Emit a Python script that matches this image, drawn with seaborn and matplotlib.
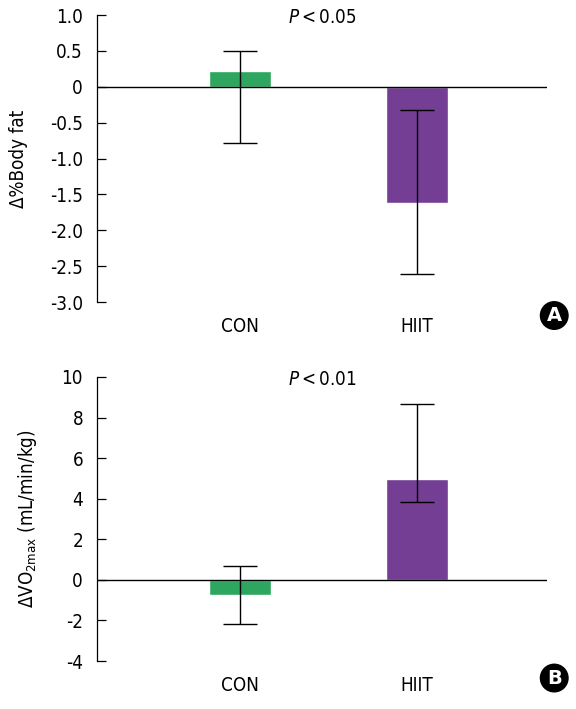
import matplotlib
matplotlib.use("Agg")
import matplotlib.pyplot as plt
import numpy as np
import pandas as pd
import seaborn as sns

# ── data ──────────────────────────────────────────────────────────────────────
groups = ["CON", "HIIT"]
bar_colors = ["#2ea65f", "#733e94"]

fat_mean = [0.22, -1.62]
fat_err_hi = [0.50, -0.33]     # upper end of error bar
fat_err_lo = [-0.79, -2.61]    # lower end of error bar
fat_ticks = [1.0, 0.5, 0, -0.5, -1.0, -1.5, -2.0, -2.5, -3.0]
fat_ticklabels = ["1.0", "0.5", "0", "-0.5", "-1.0", "-1.5", "-2.0", "-2.5", "-3.0"]

vo2_mean = [-0.77, 4.97]
vo2_err_hi = [0.70, 8.65]
vo2_err_lo = [-2.18, 3.83]
vo2_ticks = [10, 8, 6, 4, 2, 0, -2, -4]
vo2_ticklabels = ["10", "8", "6", "4", "2", "0", "-2", "-4"]

sns.set_theme(style="white")
plt.rcParams["font.family"] = ["DejaVu Sans"]
plt.rcParams.update({"font.stretch": "condensed",
                     "text.color": "black", "axes.labelcolor": "black",
                     "xtick.color": "black", "ytick.color": "black"})
FS = 13.5

fig = plt.figure(figsize=(5.76, 7.09), dpi=100)
ax_top = fig.add_axes([0.1684, 0.574, 0.7813, 0.4048])
ax_bot = fig.add_axes([0.1684, 0.0677, 0.7813, 0.4006])


def draw_panel(ax, mean, hi, lo, ticks, ticklabels, ylim, ylabel, ptxt,
               letter, ptxt_y, badge_y):
    df = pd.DataFrame({"group": groups, "value": mean})
    sns.barplot(data=df, x="group", y="value", hue="group",
                palette=bar_colors, width=0.35, saturation=1,
                legend=False, ax=ax, errorbar=None)
    mean = np.array(mean)
    yerr = [mean - np.array(lo), np.array(hi) - mean]
    ax.errorbar(range(len(groups)), mean, yerr=yerr, fmt="none",
                ecolor="black", elinewidth=1.0, capsize=12, capthick=1.0,
                zorder=5)
    ax.axhline(0, color="black", lw=1.0, zorder=4)
    ax.set_xlim(-0.808, 1.734)
    ax.set_ylim(*ylim)
    ax.set_yticks(ticks)
    ax.set_yticklabels(ticklabels, fontsize=FS)
    ax.tick_params(axis="y", direction="in", length=6.5, width=0.9,
                   left=True, pad=10)
    ax.tick_params(axis="x", length=0, pad=11, labelsize=FS)
    ax.set_xlabel("")
    ax.set_ylabel(ylabel, fontsize=FS, labelpad=16)
    for side in ["top", "right", "bottom"]:
        ax.spines[side].set_visible(False)
    ax.spines["left"].set_color("black")
    ax.spines["left"].set_linewidth(0.9)
    ax.text(0.5, ptxt_y, ptxt, transform=ax.transAxes, ha="center",
            va="center", fontsize=FS)
    ax.text(1.016, badge_y, letter, transform=ax.transAxes, ha="center",
            va="center", fontsize=14, fontweight="bold", color="white",
            fontstretch="normal",
            bbox=dict(boxstyle="circle,pad=0.22", fc="black", ec="black"),
            clip_on=False)


draw_panel(ax_top, fat_mean, fat_err_hi, fat_err_lo, fat_ticks,
           fat_ticklabels, (-3.0, 1.0), "Δ%Body fat",
           r"$\mathit{P}$$\mathregular{<0.05}$", "A", 0.992, -0.047)
draw_panel(ax_bot, vo2_mean, vo2_err_hi, vo2_err_lo, vo2_ticks,
           vo2_ticklabels, (-4, 10),
           r"ΔVO$_{\mathregular{2max}}$ (mL/min/kg)",
           r"$\mathit{P}$$\mathregular{<0.01}$", "B", 0.99, -0.06)

fig.savefig("out.png", dpi=100)
